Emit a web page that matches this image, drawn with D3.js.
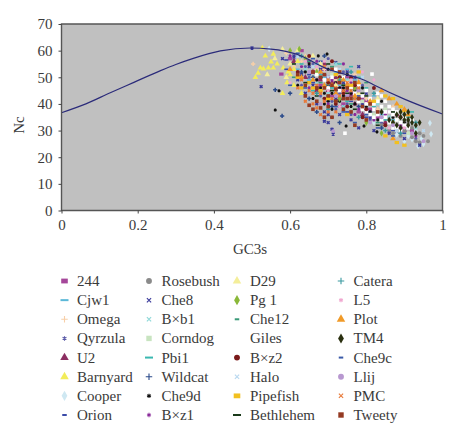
<!DOCTYPE html>
<html>
<head>
<meta charset="utf-8">
<script src="https://cdn.jsdelivr.net/npm/d3@7"></script>
<style>
  html, body { margin: 0; padding: 0; background: #fff; }
  svg { display: block; font-family: "Liberation Serif", serif; }
  text { fill: #3a3a3a; }
</style>
</head>
<body>
<div id="chart"></div>
<script>
const xTicks = [0, 0.2, 0.4, 0.6, 0.8, 1];
const xTickLabels = ['0', '0.2', '0.4', '0.6', '0.8', '1'];
const yTicks = [0, 10, 20, 30, 40, 50, 60, 70];

// expected Nc curve
const curveX = [0, 0.064, 0.128, 0.19, 0.26, 0.3, 0.346, 0.417, 0.495, 0.55, 0.617, 0.7, 0.757, 0.797, 0.823, 0.9, 1];
const curveY = [36.7, 40, 44.2, 48.1, 52.5, 54.8, 57.1, 59.9, 61, 60.6, 58.7, 53, 50.6, 48.8, 46.9, 41.8, 36.2];

// [GC3s, Nc] per phage
const p244 = [[.577,51.2],[.6,57],[.63,60],[.66,52],[.68,47],[.7,50],[.71,43],[.73,46],[.74,40],[.76,44],[.78,37],[.8,41],[.83,35],[.86,37],[.89,31],[.92,30],[.65,56],[.67,49],[.69,53],[.72,48],[.75,50],[.77,46],[.79,42],[.81,38]];
const cjw1 = [[.62,53],[.65,49],[.67,55],[.7,47],[.72,52],[.74,42],[.76,50],[.78,46],[.8,39],[.82,43],[.84,36],[.87,34],[.9,36],[.69,50],[.73,47],[.75,53],[.77,49]];
const omega = [[.503,55],[.59,59],[.61,54],[.64,58],[.66,47],[.69,53],[.72,49],[.75,45],[.77,51],[.8,42],[.83,38],[.87,39],[.63,56],[.67,53]];
const qyrzula = [[.6,51],[.63,47],[.66,55],[.68,43],[.7,57],[.72,38],[.74,52],[.76,36],[.79,47],[.81,34],[.84,33],[.88,29],[.93,27],[.65,50],[.69,47],[.71,41],[.73,44],[.75,40],[.77,44],[.61,57],[.64,54]];
const u2 = [[.61,56],[.64,50],[.67,45],[.69,55],[.71,48],[.73,42],[.75,47],[.77,40],[.79,36],[.82,38],[.85,33],[.88,36],[.9,30],[.66,52],[.68,49],[.7,45],[.72,50],[.74,45],[.76,43],[.78,44],[.8,37]];
const barnyard = [[.535,58],[.556,58.7],[.55,55.8],[.522,53.5],[.53,53.2],[.543,53.5],[.556,53.5],[.566,55],[.516,51.6],[.509,50],[.582,53.5],[.592,48],[.58,44],[.527,61],[.6,51],[.61,47],[.62,56],[.63,44],[.595,52],[.61,53]];
const cooper = [[.545,60.7],[.967,32.8],[.97,28.7],[.936,24.2],[.92,26.8],[.945,27],[.93,30],[.95,25],[.91,28],[.82,33],[.88,28.5],[.9,26]];
const orion = [[.59,56.5],[.59,53],[.62,58],[.65,51],[.68,56],[.7,41],[.72,46],[.75,37],[.78,43],[.8,35],[.84,37],[.87,30],[.9,29],[.66,48],[.71,50],[.74,46],[.76,41]];
const rosebush = [[.962,26],[.94,29],[.92,27.5],[.9,30],[.93,26],[.88,32],[.91,33],[.86,30],[.95,28],[.84,32],[.89,28],[.94,25.5],[.87,29],[.92,31]];
const che8 = [[.5,61],[.524,46.5],[.713,28.7],[.58,57],[.62,49],[.64,44],[.65,54],[.67,40],[.69,37],[.7,33],[.71,30.5],[.73,36],[.74,48],[.76,34],[.78,31],[.8,44],[.82,30],[.86,29],[.9,27],[.94,24.5],[.61,58],[.63,51],[.66,47],[.68,53],[.69,33.5],[.7,36],[.72,42],[.75,52],[.77,50],[.79,40],[.81,35],[.78,54],[.72,55.5],[.74,39]];
const bxb1 = [[.64,53],[.67,48],[.7,44],[.72,55],[.74,39],[.77,43],[.8,37],[.83,40],[.86,35],[.9,34],[.93,31],[.75,49]];
const corndog = [[.66,50],[.69,46],[.71,51],[.74,44],[.76,39],[.79,41],[.82,36],[.85,38],[.88,34],[.91,29]];
const pbi1 = [[.63,55],[.66,45],[.68,51],[.71,46],[.73,55],[.75,41],[.78,50],[.8,46],[.82,39],[.85,34],[.92,37],[.76,54]];
const wildcat = [[.561,45.3],[.579,35.5],[.6,44],[.63,52],[.65,42],[.67,37],[.69,58],[.71,39],[.73,33],[.76,47],[.78,39],[.81,37],[.84,31],[.66,50],[.7,47],[.72,45],[.74,50]];
const che9d = [[.571,44.9],[.561,37.7],[.697,58.7],[.674,58],[.747,31.7],[.828,29.5],[.794,31.7],[.62,47],[.64,52],[.66,42],[.67,49],[.69,44],[.7,53],[.71,38],[.72,48],[.74,43],[.75,51],[.77,40],[.79,46],[.81,37],[.84,41],[.87,35],[.9,33],[.65,55],[.68,46],[.7,41],[.71,44],[.72,44],[.73,41],[.73,46],[.74,46],[.75,42],[.76,44],[.76,39],[.77,45],[.78,41],[.8,39],[.83,34],[.69,40]];
const bxz1 = [[.6,58],[.63,54],[.65,46],[.68,52],[.7,40],[.72,44],[.74,55],[.77,36],[.79,43],[.82,34],[.85,36],[.89,32],[.93,28],[.67,56],[.71,49],[.73,39],[.75,45],[.76,48],[.78,38]];
const d29 = [[.54,51],[.56,57],[.58,60.5],[.59,50],[.6,55],[.62,60],[.64,47],[.66,58],[.68,55],[.72,47],[.78,44],[.83,42]];
const pg1 = [[.624,60.6],[.6,60],[.64,57],[.67,52],[.7,48],[.73,42],[.77,46],[.8,33],[.84,29],[.87,33]];
const che12 = [[.61,50],[.65,56],[.68,48],[.71,54],[.74,47],[.77,42],[.8,48],[.83,33],[.87,31],[.91,35],[.7,43],[.76,40]];
const giles = [[.815,51.2],[.744,29],[.72,53],[.73,45],[.74,50],[.75,48],[.76,42],[.76,46],[.77,44],[.78,47],[.78,41],[.79,43],[.79,38],[.8,45],[.8,40],[.81,42],[.81,36],[.82,40],[.82,38],[.83,44],[.83,36],[.84,39],[.84,34],[.85,37],[.85,41],[.86,33],[.86,39],[.87,36],[.87,31],[.88,34],[.88,37],[.89,33],[.89,30],[.9,35],[.9,32],[.91,31],[.92,34],[.67,51],[.69,49],[.7,46],[.71,50],[.8,37],[.82,35],[.83,41],[.85,35],[.84,43],[.86,37],[.88,31],[.87,38]];
const bxz2 = [[.62,52],[.65,58],[.67,46],[.69,42],[.71,56],[.73,50],[.75,39],[.77,47],[.8,38],[.82,46],[.85,32],[.89,35],[.7,48],[.72,40],[.74,44],[.76,50],[.78,42],[.79,35]];
const halo = [[.62,58],[.66,54],[.7,50],[.73,53],[.76,45],[.79,50],[.83,37],[.88,30],[.92,33],[.95,30]];
const pipefish = [[.63,46],[.65,48],[.68,45],[.7,42],[.72,51],[.75,36],[.78,52],[.82,41],[.85,43],[.87,42],[.89,39],[.9,37.5],[.88,25.5],[.9,24.5],[.85,28],[.62,50],[.66,46],[.73,49],[.76,47]];
const bethlehem = [[.61,55],[.64,48],[.67,43],[.7,55],[.72,41],[.74,47],[.77,38],[.8,43],[.83,32],[.87,37],[.68,50],[.71,45],[.75,44],[.79,44]];
const catera = [[.63,58],[.67,44],[.7,38],[.73,49],[.76,52],[.78,35],[.82,44],[.85,30],[.89,29],[.93,33]];
const l5 = [[.6,48],[.64,56],[.67,54],[.7,45],[.73,39],[.76,49],[.79,52],[.82,49],[.86,31],[.9,31],[.69,56]];
const plot = [[.6,53],[.63,50],[.66,49],[.69,47],[.72,44],[.75,47],[.78,48],[.81,41],[.84,45],[.86,42],[.88,40],[.9,38],[.87,27],[.91,36],[.68,52],[.71,47],[.74,49],[.77,43]];
const tm4 = [[.86,34],[.87,33],[.88,36],[.88,32],[.89,35],[.89,37],[.89,31],[.9,34],[.9,36],[.91,34],[.91,37],[.91,32],[.92,35],[.92,33],[.93,32],[.93,29],[.94,33],[.84,37]];
const che9c = [[.6,47],[.62,59],[.64,46],[.66,57],[.69,51],[.71,35],[.74,37],[.77,33],[.8,36],[.83,31],[.87,28],[.72,39],[.75,43]];
const llij = [[.713,29.8],[.65,52],[.68,40],[.72,43],[.75,43],[.78,45],[.81,33],[.84,35],[.87,32],[.92,29],[.95,26]];
const pmc = [[.62,46],[.64,41],[.66,44],[.67,38.5],[.68,36],[.69,41],[.7,37],[.71,42],[.66,40],[.65,45],[.63,49],[.67,47],[.69,54],[.72,37],[.74,45],[.7,49],[.72,46],[.73,43],[.75,48],[.76,45],[.77,42],[.78,46],[.68,44]];
const tweety = [[.64,43],[.65,39.5],[.66,38],[.67,41],[.68,38.5],[.69,35],[.7,39],[.71,35],[.77,32],[.62,51],[.64,47],[.66,52],[.68,50],[.69,46],[.7,43],[.71,47],[.72,41],[.73,52],[.74,38],[.75,42],[.76,37],[.78,42],[.8,34],[.83,37],[.67,46],[.69,51],[.71,53],[.72,45.5],[.73,48],[.74,42],[.75,46],[.76,42],[.77,48],[.79,39],[.81,40]];

const seriesNames = ['244','Cjw1','Omega','Qyrzula','U2','Barnyard','Cooper','Orion','Rosebush','Che8','B×b1','Corndog','Pbi1','Wildcat','Che9d','B×z1','D29','Pg 1','Che12','Giles','B×z2','Halo','Pipefish','Bethlehem','Catera','L5','Plot','TM4','Che9c','Llij','PMC','Tweety'];
const seriesData = [p244,cjw1,omega,qyrzula,u2,barnyard,cooper,orion,rosebush,che8,bxb1,corndog,pbi1,wildcat,che9d,bxz1,d29,pg1,che12,giles,bxz2,halo,pipefish,bethlehem,catera,l5,plot,tm4,che9c,llij,pmc,tweety];
const seriesShapes = ['rect','dash','plus','star','tri','tri','diamond','dash','circle','times','times','square','dash','plus','star','star','tri','diamond','dash','square','circle','times','rect','dash','plus','star','tri','diamond','dash','circle','times','square'];
const seriesColors = ['#a5479a','#5bb8d8','#f7cfa8','#5a5aa8','#8c2f62','#f2ec5a','#cfe8f2','#3a4aa8','#8a8a8a','#3a3a9a','#8fd8d8','#c8e4c0','#3ab8b0','#2a4a8a','#111111','#8a2a9a','#f4ee9a','#8ab838','#3a9a78','#ffffff','#7a1a1a','#b8d8f0','#f2c020','#1a3a1a','#3a9aa0','#f0a8d0','#f09a28','#2a3010','#3a5aa8','#b898d0','#e87a3a','#943a22'];
const shortDash = ['Orion', 'Che12', 'Che9c'];

const width = 472;
const height = 436;
const margin = { left: 61.5, right: 29.5, top: 24, bottom: 225.5 };

const x = d3.scaleLinear().domain([0, 1]).range([margin.left, width - margin.right]);
const y = d3.scaleLinear().domain([0, 70]).range([height - margin.bottom, margin.top]);

const svg = d3.select('#chart').append('svg')
  .attr('width', width)
  .attr('height', height);

svg.append('rect')
  .attr('x', x(0))
  .attr('y', y(70))
  .attr('width', x(1) - x(0))
  .attr('height', y(0) - y(70))
  .attr('fill', '#c0c0c0');

// draw one marker at 0,0 in the given selection
function drawMarker(g, shape, color, k, strokeWidth) {
  if (shape === 'rect' || shape === 'dash') {
    const w = (shape === 'rect' ? 4.4 : 4) * k;
    const h = (shape === 'rect' ? 3.2 : 1.6) * k;
    g.append('rect').attr('x', -w / 2).attr('y', -h / 2).attr('width', w).attr('height', h).attr('fill', color);
    return;
  }
  const types = { square: d3.symbolSquare, tri: d3.symbolTriangle, diamond: d3.symbolDiamond, circle: d3.symbolCircle, plus: d3.symbolPlus, times: d3.symbolTimes, star: d3.symbolAsterisk };
  const sizes = { square: 13, tri: 14, diamond: 13, circle: 12, plus: 7, times: 6, star: 6 };
  const path = g.append('path').attr('d', d3.symbol().type(types[shape]).size(sizes[shape] * k * k)());
  if (shape === 'plus' || shape === 'times' || shape === 'star') {
    path.attr('fill', 'none').attr('stroke', color).attr('stroke-width', strokeWidth);
  } else {
    path.attr('fill', color);
  }
}

seriesData.forEach((pts, i) => {
  const group = svg.append('g').attr('class', 'series');
  pts.forEach(d => {
    const g = group.append('g').attr('transform', `translate(${x(d[0])},${y(d[1])})`);
    drawMarker(g, seriesShapes[i], seriesColors[i], 1, 1.5);
  });
});

const line = d3.line().x(d => x(d[0])).y(d => y(d[1])).curve(d3.curveMonotoneX);
svg.append('path')
  .attr('d', line(curveX.map((v, i) => [v, curveY[i]])))
  .attr('fill', 'none')
  .attr('stroke', '#2b2b7a')
  .attr('stroke-width', 1.2);

// plot frame
svg.append('path')
  .attr('d', `M${x(0)},${y(0)}V${y(70)}H${x(1)}V${y(0)}Z`)
  .attr('fill', 'none')
  .attr('stroke', '#555')
  .attr('stroke-width', 1.4);

const xAxis = svg.append('g')
  .attr('transform', `translate(0,${y(0)})`)
  .call(d3.axisBottom(x).tickValues(xTicks).tickFormat((d, i) => xTickLabels[i]).tickSize(3).tickPadding(6));

const yAxis = svg.append('g')
  .attr('transform', `translate(${x(0)},0)`)
  .call(d3.axisLeft(y).tickValues(yTicks).tickSize(3).tickPadding(6));

[xAxis, yAxis].forEach(a => {
  a.select('.domain').remove();
  a.selectAll('line').attr('stroke', '#444');
  a.selectAll('text').attr('font-size', 15).attr('font-family', '"Liberation Serif", serif').style('fill', '#3a3a3a');
});

svg.append('text')
  .attr('x', 250)
  .attr('y', 254)
  .attr('text-anchor', 'middle')
  .attr('font-size', 15)
  .text('GC3s');

svg.append('text')
  .attr('transform', 'translate(24,125) rotate(-90)')
  .attr('text-anchor', 'middle')
  .attr('font-size', 15)
  .text('Nc');

// legend, eight rows in four columns
const legendMarkerX = [64.5, 149, 237, 341];
const legendTextX = [77, 161.5, 250, 353.5];
const legendY = d3.scaleLinear().domain([0, 7]).range([281, 415]);

seriesNames.forEach((name, i) => {
  const col = Math.floor(i / 8);
  const row = i % 8;
  const g = svg.append('g').attr('transform', `translate(${legendMarkerX[col]},${legendY(row)})`);
  const shape = seriesShapes[i];
  if (shape === 'dash') {
    const w = shortDash.includes(name) ? 4.5 : 8;
    g.append('rect').attr('x', -w / 2).attr('y', -1).attr('width', w).attr('height', 2).attr('fill', seriesColors[i]);
  } else {
    drawMarker(g, shape, seriesColors[i], 1.5, 1.1);
  }
  svg.append('text')
    .attr('x', legendTextX[col])
    .attr('y', legendY(row) + 5)
    .attr('font-size', 15)
    .text(name);
});
</script>
</body>
</html>
